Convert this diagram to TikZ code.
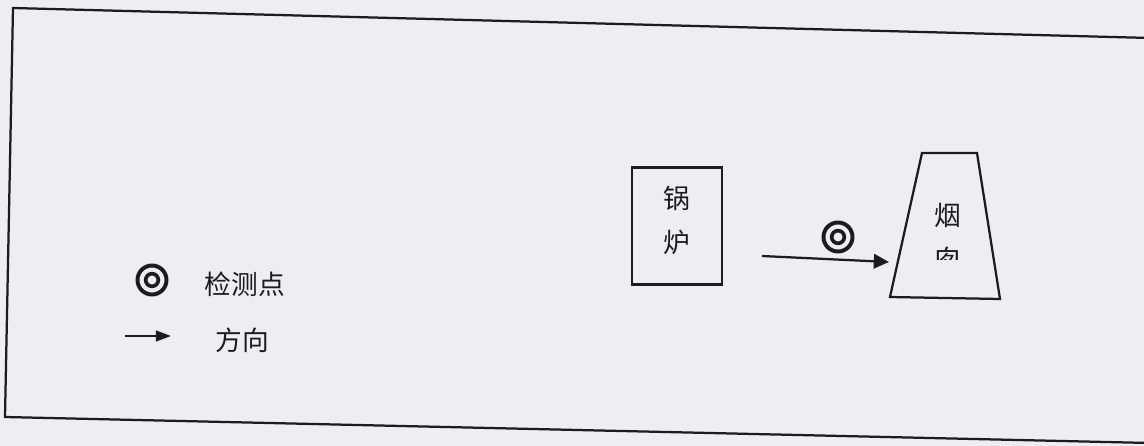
\documentclass[tikz,border=0pt]{standalone}
\usepackage{fontspec}
\newfontfamily\cjk{Noto Sans CJK SC}
\usetikzlibrary{arrows.meta,positioning}
\definecolor{ink}{RGB}{28,28,30}
\definecolor{paper}{RGB}{237,237,242}

\begin{document}
\begin{tikzpicture}[x=0.025cm,y=-0.025cm,>={Triangle[length=0.38cm,width=0.36cm]},
                    line width=1.6pt,
                    box/.style={rectangle,draw=ink,minimum width=2.25cm,minimum height=2.925cm},
                    probe/.style={circle,draw=ink,line width=2.8pt,inner sep=0pt,minimum size=0.725cm,
                      path picture={\draw[ink,line width=2.6pt] (path picture bounding box.center) circle (0.158cm);}},
                    word/.style={font=\cjk\fontsize{19}{19}\selectfont,text=ink,inner sep=0pt}]

      \fill[paper] (0,0) rectangle (1144,446);
      \useasboundingbox (0,0) rectangle (1144,446);
      \clip (0,0) rectangle (1144,446);
      % frame
      \draw[ink] (1150,38) -- (13,8) -- (5,417) -- (1150,443);

      % boiler and chimney
      \node[box] (boiler) at (677,226) {};
      \node[word] (guo) at (677,198) {锅};
      \node[word] (lu) at (677,242) {炉};
      \draw[ink] (922,153) -- (977,153) -- (1000,299) -- (890,297) -- cycle;
      \node[word] (yan) at (948,215) {烟};
      \begin{scope}
        \clip (900,200) rectangle (1000,259);
        \node[word] (cong) at (948,259) {囱};
      \end{scope}

      \coordinate (flowA) at (762,256);
      \coordinate (flowB) at (889,262);
      \draw[ink,->] (flowA) -- (flowB);
      \node[probe] (p1) at (838,237) {};

      % legend
      \node[probe] (key1) at (152,280) {};
      \node[word] (keytxt1) at (245,284) {检测点};
      \coordinate (keyA) at (125,336);
      \coordinate (keyB) at (171,336);
      \draw[ink,-{Triangle[length=0.38cm,width=0.27cm]}] (keyA) -- (keyB);
      \node[word] (keytxt2) at (242,340) {方向};
    \end{tikzpicture}
\end{document}
